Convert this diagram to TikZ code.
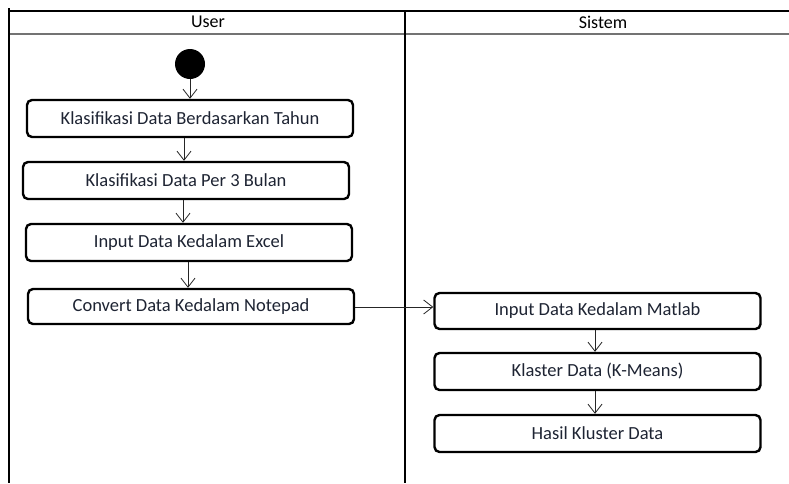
\documentclass[tikz,border=0pt]{standalone}
\usepackage{fontspec}
\setmainfont{Carlito}
\usetikzlibrary{arrows.meta}
\definecolor{txtc}{HTML}{1E2433}
\tikzset{
  act/.style={draw=black, line width=2.4pt, rounded corners=5pt, minimum width=326pt,
    minimum height=37pt, inner sep=0pt, text=txtc, font=\fontsize{18.5}{21}\selectfont},
  flow/.style={draw=black!85, line width=0.8pt, -{Straight Barb[length=9pt,width=14pt,line width=0.8pt]}},
  lane/.style={line width=1.2pt, draw=black},
  head/.style={font=\fontsize{18}{21}\selectfont, text=black}
}
\begin{document}
\begin{tikzpicture}[x=1pt,y=-1pt]
\useasboundingbox (0,0) rectangle (789,483);
\fill[white] (0,0) rectangle (789,483);
% swimlane frame
\draw[lane] (9,11) -- (789,11);
\draw[line width=2pt, draw=black!55] (9,34) -- (789,34);
\draw[lane] (9,8) -- (9,483);
\draw[lane] (405,11) -- (405,483);
\node[head] (user) at (208,22) {User};
\node[head] (sys) at (603,22) {Sistem};
% user lane
\node[circle, fill=black, minimum size=30pt, inner sep=0pt] (start) at (190,64) {};
\node[act] (a1) at (190,118.5) {Klasifikasi Data Berdasarkan Tahun};
\node[act] (a2) at (186,180.5) {Klasifikasi Data Per 3 Bulan};
\node[act] (a3) at (189,242.5) {Input Data Kedalam Excel};
\node[act, minimum height=35pt] (a4) at (191,306.5) {Convert Data Kedalam Notepad};
% system lane
\node[act, minimum height=36pt] (b1) at (597.5,311) {Input Data Kedalam Matlab};
\node[act] (b2) at (597.5,371.5) {Klaster Data (K-Means)};
\node[act] (b3) at (597.5,433.5) {Hasil Kluster Data};
% transitions
\draw[flow] (start.south) -- (start.south |- a1.north);
\draw[flow] (184,0 |- a1.south) -- (184,0 |- a2.north);
\draw[flow] (183,0 |- a2.south) -- (183,0 |- a3.north);
\draw[flow] (188,0 |- a3.south) -- (188,0 |- a4.north);
\draw[flow] (a4.east |- 0,307) -- (b1.west |- 0,307);
\draw[flow] (595,0 |- b1.south) -- (595,0 |- b2.north);
\draw[flow] (595,0 |- b2.south) -- (595,0 |- b3.north);
\end{tikzpicture}
\end{document}
